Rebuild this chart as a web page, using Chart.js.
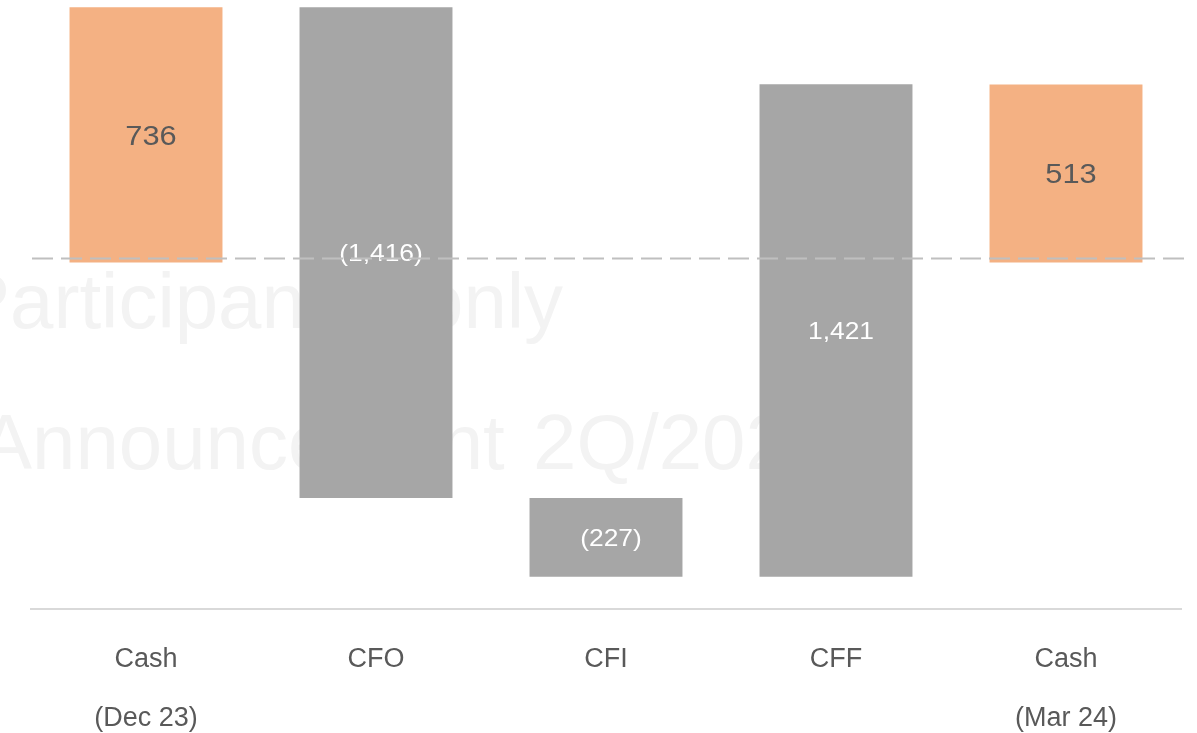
<!DOCTYPE html>
<html>
<head>
<meta charset="utf-8">
<script src="https://cdn.jsdelivr.net/npm/chart.js@4.4.1/dist/chart.umd.min.js"></script>
<style>
  html, body { margin: 0; padding: 0; background: #fff; }
  #wrap { width: 1197px; height: 733px; position: relative; }
</style>
</head>
<body>
<div id="wrap"><canvas id="cashChart"></canvas></div>
<script>
// cash bridge, Dec 23 -> Mar 24
const categories = [['Cash', '(Dec 23)'], 'CFO', 'CFI', 'CFF', ['Cash', '(Mar 24)']];
const amounts = [736, -1416, -227, 1421, 513];
const amountLabels = ['736', '(1,416)', '(227)', '1,421', '513'];
const isTotal = [true, false, false, false, true];

const ORANGE = '#F4B183';
const GREY = '#A6A6A6';
const FONT = '"Liberation Sans", Arial, sans-serif';

// floating [from, to] pairs for the waterfall
let running = 0;
const ranges = amounts.map((v, i) => {
  if (isTotal[i]) {
    running = v;
    return [0, v];
  }
  const from = running;
  running += v;
  return [from, running];
});

// faint watermark sitting behind the bars
const watermark = {
  id: 'watermark',
  beforeDatasetsDraw(chart) {
    const ctx = chart.ctx;
    ctx.save();
    ctx.fillStyle = '#f3f3f3';
    ctx.font = '78px ' + FONT;
    ctx.textBaseline = 'alphabetic';
    ctx.fillText('Participant', -42, 328);
    ctx.fillText('only', 420, 328);
    ctx.fillText('Announcement', -20, 469);
    ctx.fillText('2Q/2024', 533, 469);
    ctx.restore();
  }
};

const barLabels = {
  id: 'barLabels',
  afterDatasetsDraw(chart) {
    const ctx = chart.ctx;
    const meta = chart.getDatasetMeta(0);
    ctx.save();
    ctx.textAlign = 'center';
    ctx.textBaseline = 'middle';
    meta.data.forEach((bar, i) => {
      const cx = bar.x + 5;
      const cy = (bar.y + bar.base) / 2 + 2;
      if (isTotal[i]) {
        ctx.fillStyle = '#595959';
        ctx.font = '28px ' + FONT;
      } else {
        ctx.fillStyle = '#ffffff';
        ctx.font = '24px ' + FONT;
      }
      ctx.save();
      ctx.translate(cx, cy);
      ctx.scale(1.1, 1);
      ctx.fillText(amountLabels[i], 0, 0);
      ctx.restore();
    });

    // dashed reference line just above zero
    const y = chart.scales.y.getPixelForValue(0) - 4;
    const area = chart.chartArea;
    ctx.strokeStyle = '#BFBFBF';
    ctx.lineWidth = 2;
    ctx.setLineDash([21, 8]);
    ctx.beginPath();
    ctx.moveTo(area.left + 1, y);
    ctx.lineTo(area.right + 3, y);
    ctx.stroke();
    ctx.restore();
  }
};

new Chart(document.getElementById('cashChart'), {
  type: 'bar',
  data: {
    labels: categories,
    datasets: [{
      data: ranges,
      backgroundColor: isTotal.map(t => t ? ORANGE : GREY),
      borderWidth: 0,
      barPercentage: 0.665,
      categoryPercentage: 1
    }]
  },
  options: {
    responsive: true,
    maintainAspectRatio: false,
    animation: false,
    layout: { padding: { left: 31, right: 16, top: 0, bottom: 0 } },
    plugins: {
      legend: { display: false },
      tooltip: { enabled: false }
    },
    scales: {
      y: {
        display: false,
        min: -1000,
        max: 757
      },
      x: {
        grid: { display: false, drawTicks: false },
        border: { display: true, color: '#D9D9D9', width: 2 },
        ticks: {
          color: '#595959',
          padding: 21,
          font: { family: FONT, size: 27, lineHeight: 59 / 27 }
        },
        afterFit(scale) { scale.height = 124; }
      }
    }
  },
  plugins: [watermark, barLabels]
});
</script>
</body>
</html>
